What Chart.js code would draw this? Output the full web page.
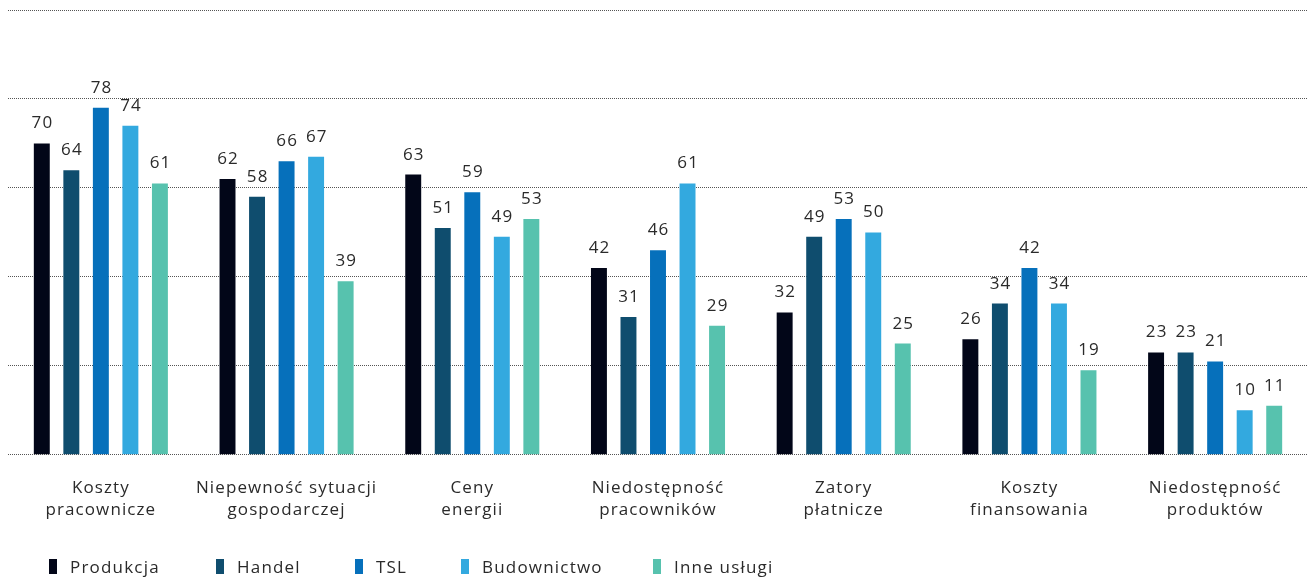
<!DOCTYPE html>
<html lang="pl">
<head>
<meta charset="utf-8">
<title>Bariery działalności</title>
<script src="https://cdn.jsdelivr.net/npm/chart.js@4.4.1/dist/chart.umd.min.js"></script>
<style>
  html, body { margin: 0; padding: 0; background: #fff; }
  body { width: 1308px; height: 581px; overflow: hidden; font-family: "Open Sans", sans-serif; }
  #wrap { position: relative; width: 1308px; height: 556px; }
  #legend { position: relative; height: 20px; margin-top: -1px; }
  .item { position: absolute; top: 0; display: flex; align-items: center; font-size: 17px; letter-spacing: 1.2px; color: #2a2a2a; white-space: nowrap; }
  .box { width: 8px; height: 15px; margin-right: 13px; }
</style>
</head>
<body>
<div id="wrap"><canvas id="chart"></canvas></div>
<div id="legend"></div>

<script>
const categories = [
    ['Koszty', 'pracownicze'],
    ['Niepewność sytuacji', 'gospodarczej'],
    ['Ceny', 'energii'],
    ['Niedostępność', 'pracowników'],
    ['Zatory', 'płatnicze'],
    ['Koszty', 'finansowania'],
    ['Niedostępność', 'produktów']
];

const sectors = ['Produkcja', 'Handel', 'TSL', 'Budownictwo', 'Inne usługi'];
const colors = ['#020618', '#0f4d6e', '#0670bb', '#33a9df', '#57c2ae'];

const produkcja   = [70, 62, 63, 42, 32, 26, 23];
const handel      = [64, 58, 51, 31, 49, 34, 23];
const tsl         = [78, 66, 59, 46, 53, 42, 21];
const budownictwo = [74, 67, 49, 61, 50, 34, 10];
const inneUslugi  = [61, 39, 53, 29, 25, 19, 11];

const series = [produkcja, handel, tsl, budownictwo, inneUslugi];

// left edge of each legend entry (px)
const legendX = [49, 216, 355, 461, 653];

const FONT = '"Open Sans", sans-serif';
const SPACING = '1.1px';

// wider tracking for all canvas text
const tracking = {
    id: 'tracking',
    beforeDraw(chart) {
        chart.ctx.letterSpacing = SPACING;
    }
};

// numbers above each bar
const valueLabels = {
    id: 'valueLabels',
    afterDatasetsDraw(chart) {
        const ctx = chart.ctx;
        ctx.save();
        ctx.letterSpacing = SPACING;
        ctx.font = '17px ' + FONT;
        ctx.fillStyle = '#2a2a2a';
        ctx.textAlign = 'center';
        ctx.textBaseline = 'alphabetic';
        chart.data.datasets.forEach((ds, i) => {
            chart.getDatasetMeta(i).data.forEach((bar, j) => {
                ctx.fillText(String(ds.data[j]), bar.x + 0.6, bar.y - 15);
            });
        });
        ctx.restore();
    }
};

const myChart = new Chart(document.getElementById('chart'), {
    type: 'bar',
    data: {
        labels: categories,
        datasets: series.map((data, i) => ({
            label: sectors[i],
            data: data,
            backgroundColor: colors[i],
            categoryPercentage: 0.795,
            barPercentage: 0.54
        }))
    },
    options: {
        responsive: true,
        maintainAspectRatio: false,
        animation: false,
        layout: { padding: { left: 8, right: 0, top: 10, bottom: 21 } },
        plugins: {
            legend: { display: false },
            tooltip: { enabled: false }
        },
        scales: {
            x: {
                grid: { display: false },
                border: { display: false },
                ticks: {
                    color: '#2a2a2a',
                    padding: 14,
                    maxRotation: 0,
                    autoSkip: false,
                    font: { family: FONT, size: 17, lineHeight: 1.3 }
                }
            },
            y: {
                min: 0,
                max: 100,
                ticks: { display: false, stepSize: 20 },
                grid: { color: '#555', lineWidth: 1, drawTicks: false },
                border: { display: false, dash: [1, 1] }
            }
        }
    },
    plugins: [tracking, valueLabels]
});

const legend = document.getElementById('legend');
sectors.forEach((name, i) => {
    const item = document.createElement('div');
    item.className = 'item';
    item.style.left = legendX[i] + 'px';
    item.innerHTML = '<span class="box" style="background:' + colors[i] + '"></span>' + name;
    legend.appendChild(item);
});
</script>
</body>
</html>
